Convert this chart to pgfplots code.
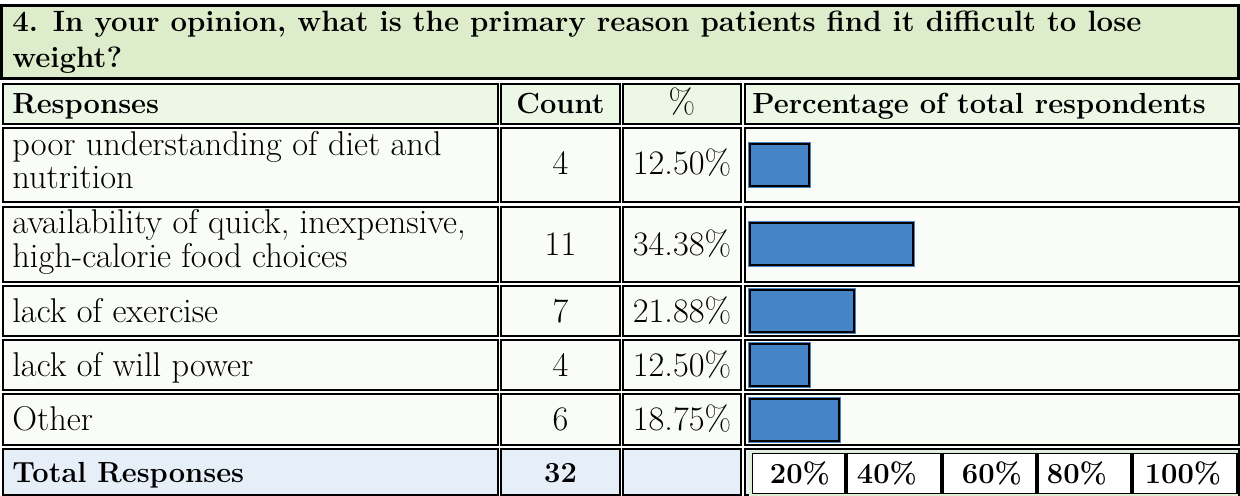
\documentclass[border=0pt]{standalone}
\usepackage{fontspec}
\usepackage{pgfplots}
\pgfplotsset{compat=1.18}
\definecolor{titlegreen}{RGB}{221,237,203}
\definecolor{headgreen}{RGB}{237,247,230}
\definecolor{rowbg}{RGB}{250,252,247}
\definecolor{totalblue}{RGB}{230,238,248}
\definecolor{framegreen}{RGB}{222,238,212}
\definecolor{barblue}{RGB}{69,132,199}
\newcommand{\rf}{\fontsize{17.25}{21}\selectfont}
\newcommand{\bfs}{\fontsize{14.6}{17}\selectfont\bfseries}
\newcommand{\tfs}{\fontsize{14.75}{17}\selectfont\bfseries}
\newcommand\cell[5]{\draw[line width=1bp,fill=#5] (axis cs:#1,#3) rectangle (axis cs:#2,#4);}
\newcommand\rowcells[3]{\cell{2.5}{497.7}{#1}{#2}{#3}\cell{501}{620}{#1}{#2}{#3}\cell{623.3}{740.8}{#1}{#2}{#3}\cell{745}{1238.5}{#1}{#2}{#3}}
\newcommand\tl[3]{\node[anchor=base west,inner sep=0,font=\rf] at (axis cs:#1,#2) {#3};}
\newcommand\tc[3]{\node[anchor=base,inner sep=0,font=\rf] at (axis cs:#1,#2) {#3};}
\newcommand\bl[3]{\node[anchor=base west,inner sep=0,font=\bfs] at (axis cs:#1,#2) {#3};}
\newcommand\bc[3]{\node[anchor=base,inner sep=0,font=\bfs] at (axis cs:#1,#2) {#3};}
\begin{document}
\begin{tikzpicture}
\begin{axis}[at={(0,0)},anchor=south west,scale only axis,width=620bp,height=248bp,
  xmin=0,xmax=1240,ymin=0,ymax=496,y dir=reverse,hide axis,clip=false]
% title
\draw[line width=1.5bp,fill=titlegreen] (axis cs:1.5,5.3) rectangle (axis cs:1238.5,78.8);
\node[anchor=base west,inner sep=0,font=\tfs] at (axis cs:12,32) {4. In your opinion, what is the primary reason patients find it difficult to lose};
\node[anchor=base west,inner sep=0,font=\tfs] at (axis cs:12,67) {weight?};
% cells
\rowcells{83.7}{123.7}{headgreen}
\rowcells{127.7}{202}{rowbg}
\rowcells{206.7}{281.7}{rowbg}
\rowcells{286}{335.7}{rowbg}
\rowcells{340}{389.7}{rowbg}
\rowcells{394}{445}{rowbg}
\rowcells{449}{495}{totalblue}
% header
\bl{12}{113}{Responses}
\bc{560.5}{113}{Count}
\tc{682}{113}{\%}
\bl{752}{113}{Percentage of total respondents}
% rows
\tl{12}{155}{poor understanding of diet and}
\tl{12}{188.5}{nutrition}
\tc{560.5}{174}{4}
\tc{682}{174}{12.50\%}
\tl{12}{233.5}{availability of quick, inexpensive,}
\tl{12}{267}{high-calorie food choices}
\tc{560.5}{255}{11}
\tc{682}{255}{34.38\%}
\tl{12}{322}{lack of exercise}
\tc{560.5}{322}{7}
\tc{682}{322}{21.88\%}
\tl{12}{376}{lack of will power}
\tc{560.5}{376}{4}
\tc{682}{376}{12.50\%}
\tl{12}{430.5}{Other}
\tc{560.5}{430.5}{6}
\tc{682}{430.5}{18.75\%}
% total row
\bl{12}{482}{Total Responses}
\bc{560.5}{482}{32}
\fill[framegreen] (axis cs:748.5,450.5) rectangle (axis cs:1238,495.5);
\draw[line width=0.75bp,fill=white] (axis cs:752.5,453.5) rectangle (axis cs:845,493.5);
\draw[line width=0.75bp,fill=white] (axis cs:847,453.5) rectangle (axis cs:941,493.5);
\draw[line width=0.75bp,fill=white] (axis cs:943,453.5) rectangle (axis cs:1036,493.5);
\draw[line width=0.75bp,fill=white] (axis cs:1038,453.5) rectangle (axis cs:1131,493.5);
\draw[line width=0.75bp,fill=white] (axis cs:1133,453.5) rectangle (axis cs:1237,493.5);
\bc{800}{483}{20\%}
\bc{887}{483}{40\%}
\bc{992}{483}{60\%}
\bc{1077}{483}{80\%}
\bc{1183}{483}{100\%}
\end{axis}
\begin{axis}[at={(0,0)},anchor=south west,scale only axis,width=620bp,height=248bp,
  xmin=-157.8947,xmax=103.1579,ymin=0,ymax=496,y dir=reverse,hide axis,clip=false]
\addplot[xbar,bar width=42,bar shift=0pt,fill=barblue,draw=barblue,line width=2bp]
  coordinates {(12.5,164.9) (34.38,244.2) (21.88,310.9) (12.5,364.9) (18.75,419.5)};
\addplot[xbar,bar width=42,bar shift=0pt,fill=barblue,draw=black,line width=1bp]
  coordinates {(12.5,164.9) (34.38,244.2) (21.88,310.9) (12.5,364.9) (18.75,419.5)};
\end{axis}
\pgfresetboundingbox
\path (0,0) rectangle (620bp,248bp);
\end{tikzpicture}
\end{document}
